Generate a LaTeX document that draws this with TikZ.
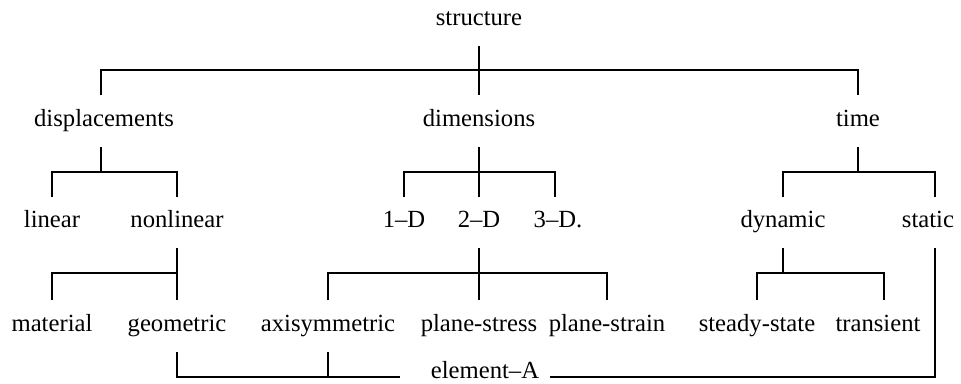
\documentclass[tikz,border=0pt]{standalone}
\usepackage{fontspec}
\setmainfont{Liberation Serif}
\begin{document}
\begin{tikzpicture}[x=0.75pt,y=-0.75pt, line width=1.4pt,
  lbl/.style={inner sep=0pt, minimum height=37.5pt, text height=0.9em, text depth=0.1em, font=\fontsize{18.5}{20}\selectfont}]
\useasboundingbox (0,0) rectangle (961,383);
% level 1
\node[lbl] (structure) at (479,20) {structure};
% level 2
\node[lbl] (disp) at (104,121) {displacements};
\node[lbl] (dim) at (479,121) {dimensions};
\node[lbl] (time) at (858,121) {time};
% level 3
\node[lbl] (linear) at (52,222.5) {linear};
\node[lbl] (nonlinear) at (177,222.5) {nonlinear};
\node[lbl] (d1) at (404,222.5) {1–D};
\node[lbl] (d2) at (479,222.5) {2–D};
\node[lbl] (d3) at (558,222.5) {3–D.};
\node[lbl] (dynamic) at (783,222.5) {dynamic};
\node[lbl] (static) at (928,222.5) {static};
% level 4
\node[lbl] (material) at (52,326) {material};
\node[lbl] (geometric) at (177,326) {geometric};
\node[lbl] (axisym) at (328,326) {axisymmetric};
\node[lbl] (pstress) at (479,326) {plane-stress};
\node[lbl] (pstrain) at (607,326) {plane-strain};
\node[lbl] (steady) at (757,326) {steady-state};
\node[lbl] (transient) at (878,326) {transient};
% bottom
\node[lbl] (elem) at (485,373) {element–A};
\coordinate (eleft) at ([xshift=-22.5pt,yshift=-3pt]elem.west);
\coordinate (eright) at ([xshift=7.5pt,yshift=-3pt]elem.east);

% connectors level 1 -> 2
\draw (structure.south) -- (dim.north);
\draw ([xshift=-2.25pt]disp.north) -- ++(0,-25) -| (time.north);
% displacements
\draw ([xshift=-2.25pt]disp.south) -- ++(0,26);
\draw (linear.north) -- ++(0,-25) -| (nonlinear.north);
% dimensions
\draw (dim.south) -- (d2.north);
\draw (d1.north) -- ++(0,-25) -| ([xshift=-2.25pt]d3.north);
% time
\draw (time.south) -- ++(0,26);
\draw (dynamic.north) -- ++(0,-25) -| ([xshift=5.25pt]static.north);
% nonlinear
\draw (nonlinear.south) -- (geometric.north);
\draw (material.north) -- ++(0,-27) -| (nonlinear.south);
% 2-D
\draw (d2.south) -- (pstress.north);
\draw (axisym.north) -- ++(0,-27) -| (pstrain.north);
% dynamic
\draw (dynamic.south) -- ++(0,25.5);
\draw (steady.north) -- ++(0,-27) -| ([xshift=4.5pt]transient.north);
% element-A
\draw (geometric.south) |- (eleft);
\draw (axisym.south) -- (axisym.south |- eleft);
\draw (eright) -| ([xshift=5.25pt]static.south);
\end{tikzpicture}
\end{document}
